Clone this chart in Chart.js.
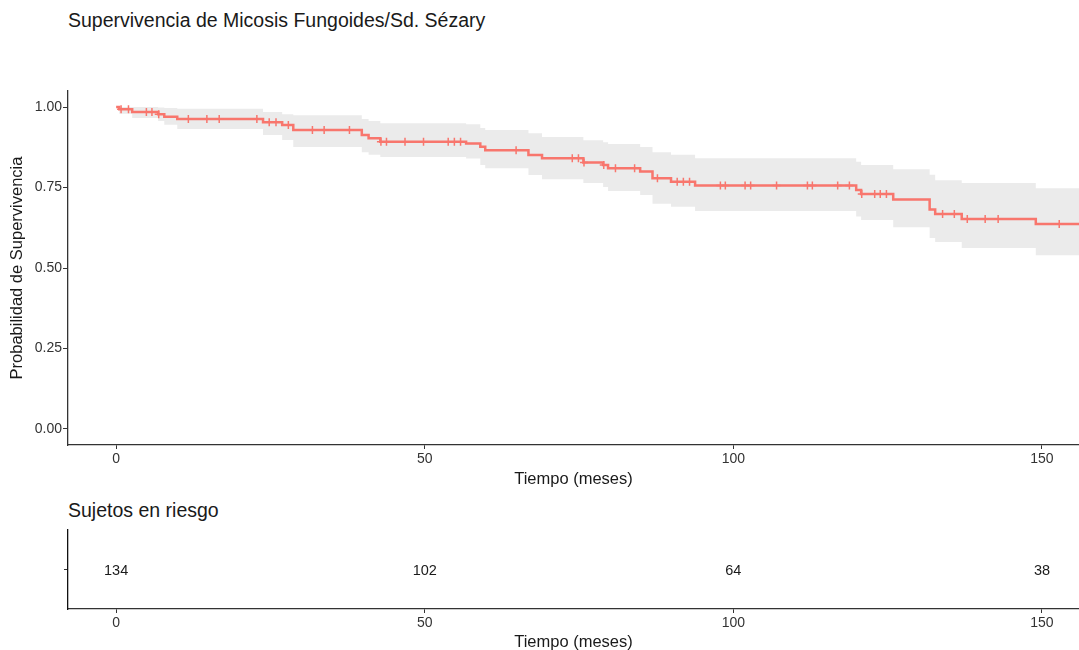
<!DOCTYPE html>
<html>
<head>
<meta charset="utf-8">
<script src="https://cdn.jsdelivr.net/npm/chart.js@4.4.1/dist/chart.umd.min.js"></script>
<style>
  body { margin: 0; width: 1079px; height: 650px; overflow: hidden; background: #fff;
         font-family: "Liberation Sans", Arial, sans-serif; }
  .title { position: absolute; left: 68px; font-size: 19.5px; line-height: 1; color: #1a1a1a; white-space: nowrap; }
  #mainWrap { position: absolute; left: 0; top: 0; }
  #riskWrap { position: absolute; left: 0; top: 500px; }
</style>
</head>
<body>
<div class="title" style="top:11px">Supervivencia de Micosis Fungoides/Sd. Sézary</div>
<div class="title" style="top:501px">Sujetos en riesgo</div>
<div id="mainWrap"><canvas id="kmChart" width="1079" height="500"></canvas></div>
<div id="riskWrap"><canvas id="riskChart" width="1079" height="160"></canvas></div>

<script>
// Kaplan-Meier curve (time in months, survival level after each step)
const stepTimes = [0, 0.5, 2.6, 6.8, 7.8, 9.9, 23.8, 26.9, 28.7, 39.8, 40.9, 42.8, 56.7, 59.0, 59.8,
  66.8, 69.0, 75.7, 78.9, 79.7, 84.9, 86.9, 89.9, 93.8, 119.9, 120.7, 125.9, 131.8, 132.7, 137.0, 149.0, 160];
const survival = [1.0, 0.993, 0.985, 0.978, 0.970, 0.963, 0.953, 0.944, 0.929, 0.913, 0.903, 0.892, 0.887, 0.877, 0.866,
  0.851, 0.841, 0.828, 0.820, 0.810, 0.800, 0.779, 0.768, 0.756, 0.742, 0.730, 0.713, 0.682, 0.668, 0.652, 0.637, 0.637];
const upperCI = [1.0, 1.0, 1.0, 0.999, 0.997, 0.995, 0.985, 0.978, 0.975, 0.963, 0.957, 0.950, 0.947, 0.935, 0.929,
  0.919, 0.907, 0.897, 0.891, 0.885, 0.876, 0.860, 0.852, 0.841, 0.830, 0.820, 0.807, 0.790, 0.773, 0.764, 0.748, 0.748];
const lowerCI = [1.0, 0.979, 0.966, 0.957, 0.945, 0.932, 0.913, 0.898, 0.876, 0.860, 0.852, 0.845, 0.840, 0.820, 0.810,
  0.789, 0.776, 0.764, 0.752, 0.739, 0.727, 0.700, 0.690, 0.677, 0.660, 0.649, 0.627, 0.593, 0.581, 0.562, 0.540, 0.540];
const censorTimes = [0.8, 2.0, 4.9, 5.8, 6.9, 11.7, 14.7, 16.7, 22.8, 24.8, 25.9, 27.9, 31.8, 33.7, 37.8,
  42.9, 43.8, 46.8, 49.8, 53.8, 54.8, 55.8, 64.8, 73.9, 74.9, 75.8, 79.0, 80.9, 84.0, 87.7, 90.9, 91.9, 92.9,
  97.9, 98.7, 101.9, 102.8, 107.0, 112.0, 112.8, 116.9, 118.8, 120.8, 122.9, 123.8, 124.8, 133.9, 135.8,
  137.9, 140.8, 142.9, 152.8];

// risk table
const riskTimes = [0, 50, 100, 150];
const riskCounts = [134, 102, 64, 38];

const xTicks = [0, 50, 100, 150];
const yTicks = [0, 0.25, 0.5, 0.75, 1];

const FONT = '"Liberation Sans", Arial, sans-serif';
const RED = '#F8766D';
const BAND = '#EBEBEB';
const AXIS = '#333333';

function levelAt(t) {
  let s = survival[0];
  for (let i = 0; i < stepTimes.length; i++) {
    if (stepTimes[i] <= t) s = survival[i];
  }
  return s;
}

function pts(ys) {
  return stepTimes.map((t, i) => ({ x: t, y: ys[i] }));
}

function xAxis(height, titlePad) {
  return {
    type: 'linear',
    min: -7.8,
    max: 156,
    afterBuildTicks: (scale) => { scale.ticks = xTicks.map(v => ({ value: v })); },
    afterFit: (scale) => { scale.height = height; },
    grid: { drawOnChartArea: false, drawTicks: true, tickLength: 4, tickColor: AXIS, tickWidth: 1 },
    border: { display: true, color: AXIS, width: 1.3 },
    ticks: { color: '#333', font: { family: FONT, size: 14 }, padding: 2, maxRotation: 0 },
    title: { display: true, text: 'Tiempo (meses)', color: '#1a1a1a',
             font: { family: FONT, size: 16.5 }, padding: { top: 0, bottom: titlePad } }
  };
}

const kmChart = new Chart(document.getElementById('kmChart').getContext('2d'), {
  type: 'line',
  data: {
    datasets: [
      {
        // censored observations
        data: censorTimes.map(t => ({ x: t, y: levelAt(t) })),
        showLine: false,
        pointStyle: 'cross',
        pointRadius: 4,
        pointBorderWidth: 1.5,
        pointBorderColor: RED,
        pointBackgroundColor: RED
      },
      {
        data: pts(survival),
        stepped: 'before',
        borderColor: RED,
        borderWidth: 2.5,
        pointRadius: 0,
        fill: false
      },
      {
        data: pts(upperCI),
        stepped: 'before',
        borderWidth: 0,
        borderColor: 'rgba(0,0,0,0)',
        pointRadius: 0,
        fill: false
      },
      {
        data: pts(lowerCI),
        stepped: 'before',
        borderWidth: 0,
        borderColor: 'rgba(0,0,0,0)',
        backgroundColor: BAND,
        pointRadius: 0,
        fill: '-1'
      }
    ]
  },
  options: {
    responsive: false,
    animation: false,
    layout: { autoPadding: false, padding: { top: 91, left: 0, right: 0, bottom: 0 } },
    plugins: { legend: { display: false }, tooltip: { enabled: false } },
    scales: {
      x: xAxis(55, 11),
      y: {
        min: -0.05,
        max: 1.05,
        afterBuildTicks: (scale) => { scale.ticks = yTicks.map(v => ({ value: v })); },
        afterFit: (scale) => { scale.width = 68; },
        grid: { drawOnChartArea: false, drawTicks: true, tickLength: 5, tickColor: AXIS, tickWidth: 1 },
        border: { display: true, color: AXIS, width: 1.3 },
        ticks: { color: '#333', font: { family: FONT, size: 14 }, padding: 1,
                 callback: (v) => Number(v).toFixed(2) },
        title: { display: true, text: 'Probabilidad de Supervivencia', color: '#1a1a1a',
                 font: { family: FONT, size: 16.5 }, padding: { top: 8, bottom: 0 } }
      }
    }
  }
});

// draws the number at risk at each point of the risk dataset
const riskLabels = {
  id: 'riskLabels',
  afterDatasetsDraw(chart) {
    const ctx = chart.ctx;
    const meta = chart.getDatasetMeta(0);
    ctx.save();
    ctx.font = '14.5px ' + FONT;
    ctx.fillStyle = '#1a1a1a';
    ctx.textAlign = 'center';
    ctx.textBaseline = 'middle';
    meta.data.forEach((el, i) => {
      ctx.fillText(String(riskCounts[i]), el.x, el.y + 1);
    });
    ctx.restore();
  }
};

const riskChart = new Chart(document.getElementById('riskChart').getContext('2d'), {
  type: 'line',
  data: {
    datasets: [{
      data: riskTimes.map(t => ({ x: t, y: 1 })),
      showLine: false,
      pointRadius: 0
    }]
  },
  options: {
    responsive: false,
    animation: false,
    layout: { autoPadding: false, padding: { top: 30, left: 0, right: 0, bottom: 0 } },
    plugins: { legend: { display: false }, tooltip: { enabled: false } },
    scales: {
      x: xAxis(51, 8),
      y: {
        min: 0,
        max: 2,
        afterBuildTicks: (scale) => { scale.ticks = [{ value: 1 }]; },
        afterFit: (scale) => { scale.width = 68; },
        grid: { drawOnChartArea: false, drawTicks: true, tickLength: 4, tickColor: AXIS, tickWidth: 1 },
        border: { display: true, color: '#111', width: 1.3 },
        ticks: { callback: () => '' }
      }
    }
  },
  plugins: [riskLabels]
});
</script>
</body>
</html>
